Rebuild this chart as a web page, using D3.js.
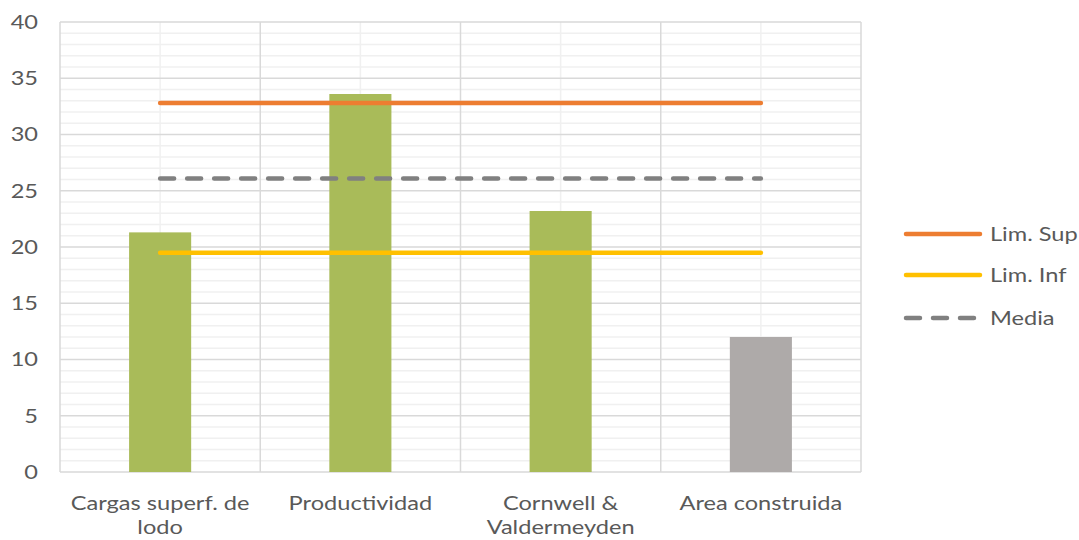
<!DOCTYPE html>
<html>
<head>
<meta charset="utf-8">
<script src="https://cdn.jsdelivr.net/npm/d3@7"></script>
<style>
  html, body { margin: 0; padding: 0; background: #fff; }
  svg { display: block; font-family: Lato, "Open Sans", sans-serif; }
</style>
</head>
<body>
<svg id="chart" width="1079" height="540"></svg>
<script>
// Categories and series
const categories = ["Cargas superf. de lodo", "Productividad", "Cornwell & Valdermeyden", "Area construida"];
const categoryLines = [["Cargas superf. de", "lodo"], ["Productividad"], ["Cornwell &", "Valdermeyden"], ["Area construida"]];
const barValues = [21.3, 33.6, 23.2, 12.0];
const barColors = ["#a9bb59", "#a9bb59", "#a9bb59", "#aeaaa9"];
const limSup = [32.8, 32.8, 32.8, 32.8];
const limInf = [19.5, 19.5, 19.5, 19.5];
const media = [26.1, 26.1, 26.1, 26.1];
const yTicks = [0, 5, 10, 15, 20, 25, 30, 35, 40];
const legendItems = [
  { name: "Lim. Sup", color: "#ed7d31", dash: false },
  { name: "Lim. Inf", color: "#ffc000", dash: false },
  { name: "Media", color: "#808080", dash: true }
];

const svg = d3.select("#chart");
const margin = { left: 60, right: 218, top: 22, bottom: 68 };
const W = 1079, H = 540;
const x = d3.scaleBand().domain(categories).range([margin.left, W - margin.right]).paddingInner(0).paddingOuter(0);
const y = d3.scaleLinear().domain([0, 40]).range([H - margin.bottom, margin.top]);
const textColor = "#595959";
const fontSize = "20px";
const stretch = "scale(1.18,1)"; // wide lettering

const g = svg.append("g");

// Minor horizontal gridlines (every 1 unit)
g.append("g").selectAll("line")
  .data(d3.range(1, 40).filter(v => v % 5 !== 0))
  .join("line")
  .attr("x1", x.range()[0]).attr("x2", x.range()[1])
  .attr("y1", d => y(d)).attr("y2", d => y(d))
  .attr("stroke", "#f0f0f0").attr("stroke-width", 1.5);

// Minor vertical gridlines at category centres
g.append("g").selectAll("line")
  .data(categories)
  .join("line")
  .attr("x1", d => x(d) + x.bandwidth() / 2).attr("x2", d => x(d) + x.bandwidth() / 2)
  .attr("y1", y(0)).attr("y2", y(40))
  .attr("stroke", "#f0f0f0").attr("stroke-width", 1.5);

// Major horizontal gridlines
g.append("g").selectAll("line")
  .data(yTicks)
  .join("line")
  .attr("x1", x.range()[0]).attr("x2", x.range()[1])
  .attr("y1", d => y(d)).attr("y2", d => y(d))
  .attr("stroke", "#d9d9d9").attr("stroke-width", 1.5);

// Major vertical gridlines at category boundaries
const bounds = categories.map(c => x(c)).concat([x.range()[1]]);
g.append("g").selectAll("line")
  .data(bounds)
  .join("line")
  .attr("x1", d => d).attr("x2", d => d)
  .attr("y1", y(0)).attr("y2", y(40))
  .attr("stroke", "#d9d9d9").attr("stroke-width", 1.5);

// Bars
const barW = x.bandwidth() * 0.31;
g.append("g").selectAll("rect")
  .data(barValues)
  .join("rect")
  .attr("x", (d, i) => x(categories[i]) + (x.bandwidth() - barW) / 2)
  .attr("width", barW)
  .attr("y", d => y(d))
  .attr("height", d => y(0) - y(d))
  .attr("fill", (d, i) => barColors[i]);

// Line series
const lineGen = d3.line()
  .x((d, i) => x(categories[i]) + x.bandwidth() / 2)
  .y(d => y(d));
[[limSup, legendItems[0]], [limInf, legendItems[1]], [media, legendItems[2]]].forEach(([vals, item]) => {
  g.append("path")
    .datum(vals)
    .attr("d", lineGen)
    .attr("fill", "none")
    .attr("stroke", item.color)
    .attr("stroke-width", 4.5)
    .attr("stroke-linecap", "round")
    .attr("stroke-dasharray", item.dash ? "14,13" : null);
});

// Y axis labels
const yAxis = d3.axisLeft(y).tickValues(yTicks).tickSize(0).tickPadding(0);
const yAx = svg.append("g").attr("transform", `translate(${margin.left - 22},0)`).call(yAxis);
yAx.select(".domain").remove();
yAx.selectAll("text")
  .attr("x", 0)
  .attr("transform", stretch)
  .attr("fill", textColor)
  .style("font-size", fontSize)
  .style("font-family", "Lato, sans-serif");

// X axis labels (wrapped)
const xl = svg.append("g").selectAll("text")
  .data(categories)
  .join("text")
  .attr("text-anchor", "middle")
  .attr("fill", textColor)
  .style("font-size", fontSize)
  .attr("transform", d => `translate(${x(d) + x.bandwidth() / 2},${y(0) + 38}) ${stretch}`);
xl.each(function(d, i) {
  d3.select(this).selectAll("tspan")
    .data(categoryLines[i])
    .join("tspan")
    .attr("x", 0)
    .attr("dy", (t, j) => j === 0 ? 0 : 24)
    .text(t => t);
});

// Legend
const leg = svg.append("g").attr("transform", "translate(906,0)");
const legY = [234, 275, 318];
legendItems.forEach((item, i) => {
  leg.append("line")
    .attr("x1", 0).attr("x2", 74)
    .attr("y1", legY[i]).attr("y2", legY[i])
    .attr("stroke", item.color)
    .attr("stroke-width", 4.5)
    .attr("stroke-linecap", "round")
    .attr("stroke-dasharray", item.dash ? "14,13" : null);
  leg.append("text")
    .attr("transform", `translate(84,${legY[i]}) ${stretch}`)
    .attr("dy", "0.36em")
    .attr("fill", textColor)
    .style("font-size", fontSize)
    .text(item.name);
});
</script>
</body>
</html>
